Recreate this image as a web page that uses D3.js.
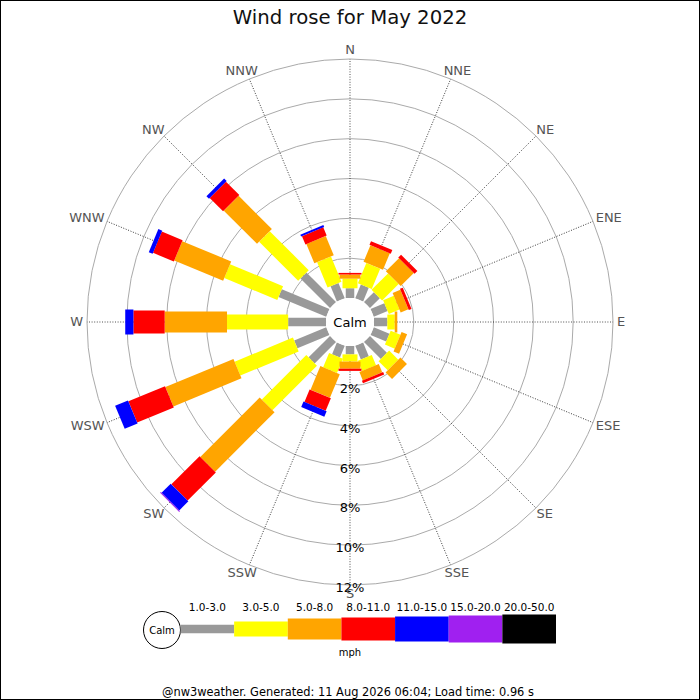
<!DOCTYPE html>
<html>
<head>
<meta charset="utf-8">
<script src="https://cdn.jsdelivr.net/npm/d3@7"></script>
<style>
  body { margin: 0; background: #fff; }
  svg { display: block; font-family: "DejaVu Sans", sans-serif; }
</style>
</head>
<body>
<svg width="700" height="700"></svg>
<script>
const width = 700;
const height = 700;
const cx = 350;
const cy = 322;

// data (% of time per direction, per speed class)
const directions = ["N", "NNE", "NE", "ENE", "E", "ESE", "SE", "SSE",
  "S", "SSW", "SW", "WSW", "W", "WNW", "NW", "NNW"];
const speedClasses = ["1.0-3.0", "3.0-5.0", "5.0-8.0", "8.0-11.0", "11.0-15.0", "15.0-20.0", "20.0-50.0"];
const ringTicks = [2, 4, 6, 8, 10, 12];

const speed1to3 = [0.49, 0.74, 0.70, 0.75, 0.67, 0.85, 1.20, 0.74, 0.42, 0.63, 1.52, 1.74, 1.90, 2.59, 2.10, 0.83];
const speed3to5 = [0.48, 1.11, 1.17, 0.58, 0.37, 0.53, 0.65, 0.56, 0.36, 0.78, 3.16, 3.17, 3.07, 2.88, 2.77, 1.37];
const speed5to8 = [0.21, 0.90, 0.93, 0.42, 0.13, 0.30, 0.46, 0.45, 0.36, 1.29, 4.22, 3.70, 3.13, 2.66, 2.36, 1.05];
const speed8to11 = [0.08, 0.20, 0.20, 0.15, 0, 0, 0, 0.14, 0.11, 0.68, 2.00, 1.99, 1.57, 1.13, 0.95, 0.45];
const speed11to15 = [0, 0, 0, 0, 0, 0, 0, 0, 0, 0.30, 0.65, 0.70, 0.41, 0.21, 0.18, 0.10];
const speed15to20 = [0, 0, 0, 0, 0, 0, 0, 0, 0, 0, 0.05, 0, 0, 0, 0, 0];
const speed20to50 = [0, 0, 0, 0, 0, 0, 0, 0, 0, 0, 0, 0, 0, 0, 0, 0];

// styles
const classColors = ["#999999", "#ffff00", "#ffa500", "#ff0000", "#0000ff", "#a020f0", "#000000"];
const classWidths = [8.5, 15, 21, 23, 25, 27, 29];

const series = [speed1to3, speed3to5, speed5to8, speed8to11, speed11to15, speed15to20, speed20to50];
const table = directions.map((d, i) => {
  const row = { dir: d };
  speedClasses.forEach((c, k) => { row[c] = series[k][i]; });
  return row;
});
const stacked = d3.stack().keys(speedClasses)(table);

const svg = d3.select("svg");

const r = d3.scaleLinear().domain([0, 12]).range([24, 263]);
const angle = d3.scaleLinear().domain([0, directions.length]).range([0, 360]);
const color = d3.scaleOrdinal(speedClasses, classColors);
const barWidth = d3.scaleOrdinal(speedClasses, classWidths);

// frame
svg.append("rect")
  .attr("x", 0.5).attr("y", 0.5)
  .attr("width", width - 1).attr("height", height - 1)
  .attr("fill", "none").attr("stroke", "#000");

svg.append("text")
  .attr("x", cx).attr("y", 24)
  .attr("text-anchor", "middle")
  .attr("font-size", 19.7)
  .attr("fill", "#111")
  .text("Wind rose for May 2022");

const plot = svg.append("g").attr("transform", `translate(${cx},${cy})`);

// rings
plot.append("g")
  .selectAll("circle")
  .data(ringTicks)
  .join("circle")
  .attr("r", d => r(d))
  .attr("fill", "none")
  .attr("stroke", "#aaa")
  .attr("stroke-width", 1);

// direction spokes
plot.append("g")
  .selectAll("line")
  .data(directions)
  .join("line")
  .attr("transform", (d, i) => `rotate(${angle(i) - 90})`)
  .attr("x1", 0).attr("x2", r(12))
  .attr("stroke", "#222")
  .attr("stroke-width", 0.8)
  .attr("stroke-dasharray", "1,1.6");

// bars
plot.append("g")
  .selectAll("g")
  .data(stacked)
  .join("g")
  .attr("fill", s => color(s.key))
  .each(function (s) {
    const w = barWidth(s.key);
    d3.select(this).selectAll("rect")
      .data(s.filter(p => p[1] - p[0] > 0))
      .join("rect")
      .attr("transform", p => `rotate(${angle(directions.indexOf(p.data.dir)) - 90})`)
      .attr("x", p => r(p[0]))
      .attr("width", p => r(p[1]) - r(p[0]))
      .attr("y", -w / 2)
      .attr("height", w);
  });

// calm circle
plot.append("circle").attr("r", r(0)).attr("fill", "#fff");
plot.append("text")
  .attr("y", 4.5)
  .attr("text-anchor", "middle")
  .attr("font-size", 13)
  .attr("fill", "#000")
  .text("Calm");

// ring labels
plot.append("g")
  .selectAll("text")
  .data(ringTicks)
  .join("text")
  .attr("x", 0)
  .attr("y", d => r(d) + 7)
  .attr("text-anchor", "middle")
  .attr("font-size", 13)
  .attr("fill", "#000")
  .text(d => d + "%");

// direction labels
const labelR = 267;
plot.append("g")
  .selectAll("text")
  .data(directions)
  .join("text")
  .attr("text-anchor", "middle")
  .attr("font-size", 13)
  .attr("fill", "#555")
  .text(d => d)
  .each(function (d, i) {
    const a = angle(i) * Math.PI / 180;
    const sx = Math.sin(a), sy = -Math.cos(a);
    const w = this.getComputedTextLength();
    const h = 9.5;
    const x = sx * labelR + sx * w / 2;
    const y = sy * labelR + sy * h / 2;
    d3.select(this).attr("x", x).attr("y", y + h / 2 - 1);
  });

// legend
const legendY = 629;
const lx = d3.scaleBand().domain(speedClasses).range([180.5, 556]);

svg.append("circle")
  .attr("cx", 162).attr("cy", 630).attr("r", 18.5)
  .attr("fill", "#fff").attr("stroke", "#000");
svg.append("text")
  .attr("x", 162).attr("y", 633.5)
  .attr("text-anchor", "middle")
  .attr("font-size", 10)
  .text("Calm");

const legend = svg.append("g");
legend.selectAll("rect")
  .data(speedClasses)
  .join("rect")
  .attr("x", d => lx(d))
  .attr("width", lx.bandwidth())
  .attr("y", d => legendY - barWidth(d) / 2)
  .attr("height", d => barWidth(d))
  .attr("fill", d => color(d));

legend.selectAll("text")
  .data(speedClasses)
  .join("text")
  .attr("x", d => lx(d) + lx.bandwidth() / 2)
  .attr("y", 610.5)
  .attr("text-anchor", "middle")
  .attr("font-size", 10.5)
  .text(d => d);

svg.append("text")
  .attr("x", 350).attr("y", 655.5)
  .attr("text-anchor", "middle")
  .attr("font-size", 10)
  .text("mph");

svg.append("text")
  .attr("x", 348).attr("y", 695.5)
  .attr("text-anchor", "middle")
  .attr("font-size", 11.4)
  .text("@nw3weather. Generated: 11 Aug 2026 06:04; Load time: 0.96 s");
</script>
</body>
</html>
